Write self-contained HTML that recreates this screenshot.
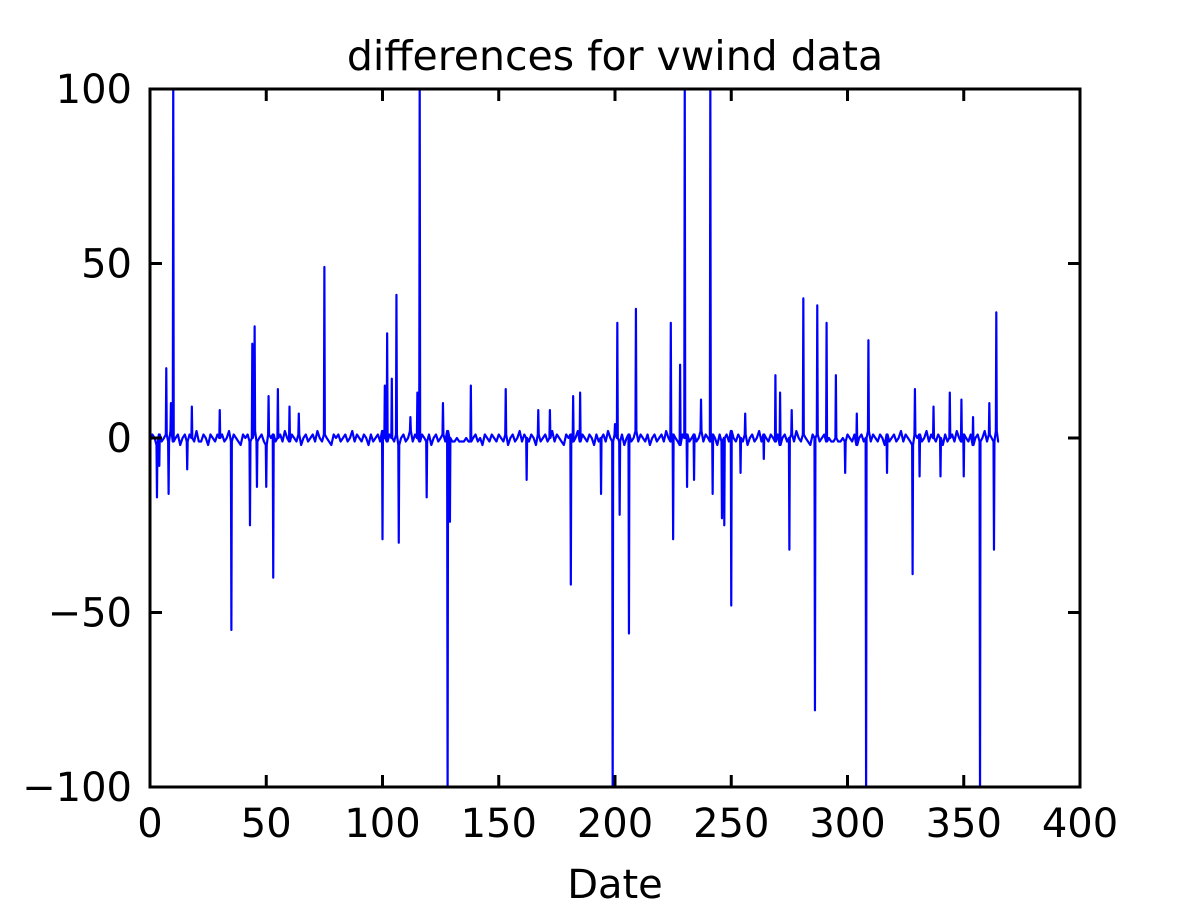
<!DOCTYPE html>
<html><head><meta charset="utf-8">
<style>
html,body{margin:0;padding:0;background:#fff;}
svg{display:block;font-family:"DejaVu Sans","Liberation Sans",sans-serif;}
</style></head>
<body>
<svg id="chart" width="1200" height="900" viewBox="0 0 1200 900" xmlns="http://www.w3.org/2000/svg">
<rect width="1200" height="900" fill="#fff"/>
<text x="615" y="70" font-size="41" text-anchor="middle">differences for vwind data</text>
<text x="615" y="898" font-size="40" text-anchor="middle">Date</text>
<defs><clipPath id="plotclip"><rect x="150" y="89" width="930" height="698"/></clipPath></defs>
<g id="series" clip-path="url(#plotclip)"></g>
<g id="axes"></g>
</svg>
<script>
const xTicks = [0,50,100,150,200,250,300,350,400];
const yTicks = [-100,-50,0,50,100];
const baseline = [
-1,1,0,-2,1,-1,0,1,-1,2,-1,0,1,-2,0,1,-1,1,0,-1,2,-1,-1,1,0,-2,1,0,-1,1,
0,1,-1,0,2,-1,1,0,-1,-2,1,0,1,-1,0,2,-1,0,1,-1,-2,1,0,1,-1,0,1,-1,2,0,
-1,1,0,-1,1,-2,0,1,-1,0,1,-1,2,0,-1,1,0,-1,-2,1,0,1,-1,0,1,-1,0,2,-1,1,
0,-1,1,0,-2,1,-1,0,1,-1,2,0,-1,1,0,-1,1,-2,0,1,-1,0,2,-1,1,0,-1,1,0,-1,
1,-2,0,1,-1,0,1,-1,2,0,-1,-1,0,-1,-1,-1,0,-1,-1,0,1,-1,0,-2,1,0,-1,1,0,-1,
1,0,-1,1,-2,0,1,-1,0,2,-1,1,0,-1,1,0,-2,1,-1,0,1,-1,0,2,-1,1,0,-1,-2,1,
0,1,-1,0,2,-1,1,0,-1,1,0,-2,1,-1,0,1,-1,2,0,-1,1,0,-1,1,-2,0,1,-1,0,2,
-1,1,0,-1,1,-2,0,1,-1,0,1,-1,2,0,-1,1,0,-1,-2,1,0,1,-1,0,1,-1,0,2,-1,1,
0,-1,1,0,-2,1,-1,0,1,-1,2,0,-1,1,0,-1,1,-2,0,1,-1,0,2,-1,1,0,-1,1,0,-1,
1,-2,0,1,-1,0,1,-1,2,0,-1,1,0,-1,-2,1,0,1,-1,0,1,-1,0,-1,-1,0,-1,-1,0,-1,
1,0,-1,1,-2,0,1,-1,0,2,-1,1,0,-1,1,0,-2,1,-1,0,1,-1,0,2,-1,1,0,-1,-2,1,
0,1,-1,0,2,-1,1,0,-1,1,0,-2,1,-1,0,1,-1,2,0,-1,1,0,-1,1,-2,0,1,-1,0,2,
-1,1,0,-1,2,-1
];
const spikeDays = [3,4,7,8,9,10,16,18,30,35,43,44,45,46,50,51,53,55,60,64,75,100,101,102,104,106,107,112,115,116,119,126,128,129,138,153,162,167,172,181,182,185,194,199,200,201,202,206,209,224,225,228,230,231,234,237,241,242,246,247,250,254,256,264,269,271,275,276,281,286,287,291,295,299,304,308,309,317,328,329,331,337,340,344,349,350,354,357,361,363,364,365];
const spikeValues = [-17,-8,20,-16,10,105,-9,9,8,-55,-25,27,32,-14,-14,12,-40,14,9,7,49,-29,15,30,17,41,-30,6,13,105,-17,10,-105,-24,15,14,-12,8,8,-42,12,13,-16,-105,4,33,-22,-56,37,33,-29,21,105,-14,-12,11,105,-16,-23,-25,-48,-10,7,-6,18,13,-32,8,40,-78,38,33,18,-10,7,-105,28,-10,-39,14,-11,9,-11,13,11,-11,6,-105,10,-32,36,-1];

const NS="http://www.w3.org/2000/svg";
const X0=150,X1=1080,Y0=787,Y1=89;
const xScale=v=>X0+(v-0)/(400-0)*(X1-X0);
const yScale=v=>Y0-(v+100)/200*(Y0-Y1);

const spikeMap = {};
spikeDays.forEach((d,i)=>{spikeMap[d]=spikeValues[i];});

const pts=[];
baseline.forEach((b,i)=>{
  if(i in spikeMap){
    pts.push([i-0.2,b]);
    pts.push([i,spikeMap[i]]);
    pts.push([i+0.2,b]);
  } else pts.push([i,b]);
});

const series=document.getElementById('series');
let dstr='';
pts.forEach((p,i)=>{dstr+=(i?'L':'M')+xScale(p[0]).toFixed(2)+','+yScale(p[1]).toFixed(2);});
const line=document.createElementNS(NS,'path');
line.setAttribute('d',dstr);
line.setAttribute('fill','none');
line.setAttribute('stroke','#0000ff');
line.setAttribute('stroke-width','2.2');
line.setAttribute('stroke-linejoin','round');


series.appendChild(line);

const axes=document.getElementById('axes');
const frame=document.createElementNS(NS,'rect');
frame.setAttribute('x',X0);frame.setAttribute('y',Y1);
frame.setAttribute('width',X1-X0);frame.setAttribute('height',Y0-Y1);
frame.setAttribute('fill','none');frame.setAttribute('stroke','#000');frame.setAttribute('stroke-width','3');


axes.appendChild(frame);

function mk(tag,attrs){const e=document.createElementNS(NS,tag);for(const k in attrs)e.setAttribute(k,attrs[k]);return e;}
xTicks.forEach(t=>{
  const x=xScale(t);
  axes.appendChild(mk('line',{x1:x,x2:x,y1:Y0,y2:Y0-12,stroke:'#000','stroke-width':3}));
  axes.appendChild(mk('line',{x1:x,x2:x,y1:Y1,y2:Y1+12,stroke:'#000','stroke-width':3}));
  const tx=mk('text',{x:x,y:837,'font-size':40,'text-anchor':'middle'});
  tx.textContent=t;
  
  
  axes.appendChild(tx);
});
yTicks.forEach(t=>{
  const y=yScale(t);
  axes.appendChild(mk('line',{x1:X0,x2:X0+12,y1:y,y2:y,stroke:'#000','stroke-width':3}));
  axes.appendChild(mk('line',{x1:X1,x2:X1-12,y1:y,y2:y,stroke:'#000','stroke-width':3}));
  const tx=mk('text',{x:132,y:y+14,'font-size':40,'text-anchor':'end'});
  tx.textContent=t<0?'\u2212'+Math.abs(t):String(t);
  
  
  axes.appendChild(tx);
});
</script>
</body></html>
